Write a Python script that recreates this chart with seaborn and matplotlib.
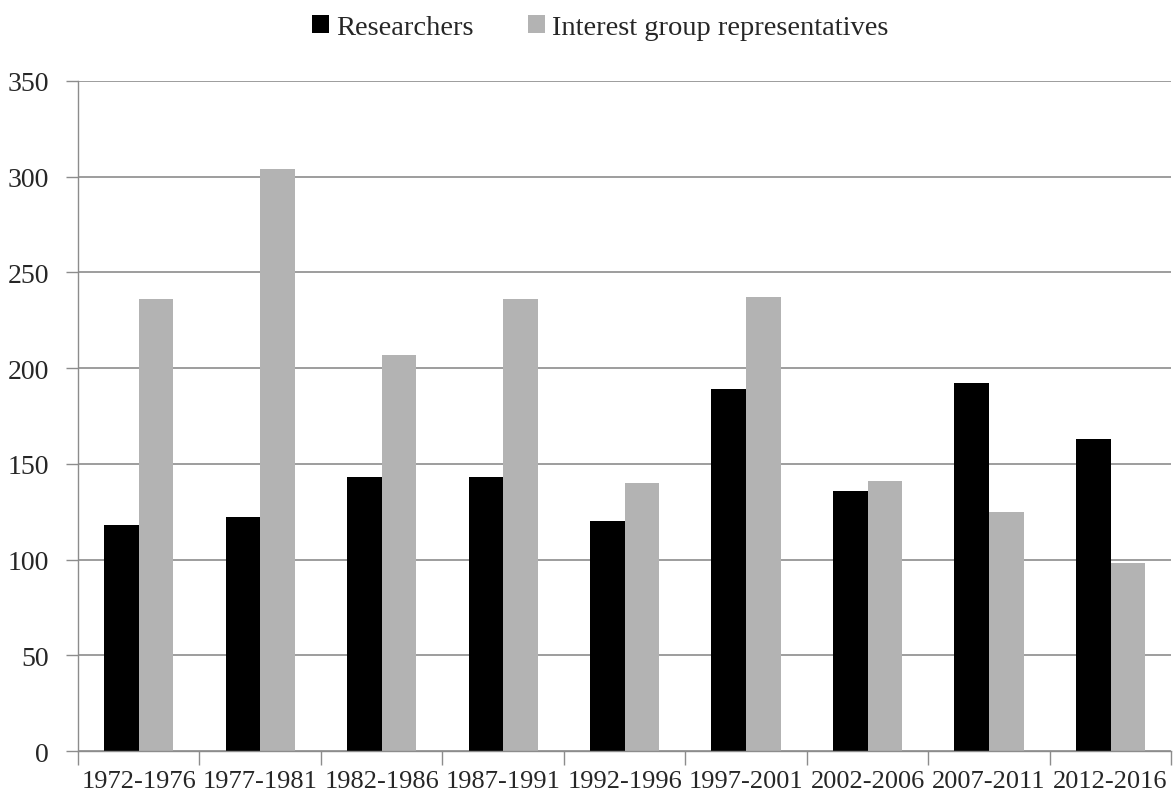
import pandas as pd
import matplotlib
matplotlib.use('Agg')
import matplotlib.pyplot as plt
import seaborn as sns
import numpy as np
from matplotlib.patches import Patch

# Dane
periods = ['1972-1976', '1977-1981', '1982-1986', '1987-1991', '1992-1996',
           '1997-2001', '2002-2006', '2007-2011', '2012-2016']
researchers = [118, 122, 143, 143, 120, 189, 136, 192, 163]
interest = [236, 304, 207, 236, 140, 237, 141, 125, 98]
groups = ['Researchers', 'Interest group representatives']
colors = ['#000000', '#b3b3b3']

df = pd.DataFrame({
    'Period': periods * 2,
    'Value': researchers + interest,
    'Group': [groups[0]] * len(periods) + [groups[1]] * len(periods),
})

sns.set_style('white')
plt.rcParams['font.family'] = ['Liberation Serif', 'DejaVu Serif']

fig = plt.figure(figsize=(11.73, 8.03), dpi=100)
ax = fig.add_axes([0.0665, 0.0635, 0.932, 0.8345])

sns.barplot(data=df, x='Period', y='Value', hue='Group', palette=colors,
            saturation=1, width=0.57, ax=ax, legend=False, linewidth=0)

ax.set_ylim(0, 350)
ax.set_xlim(-0.5, len(periods) - 0.5)
ax.set_yticks(np.arange(0, 351, 50))
ax.yaxis.grid(True, color='#8c8c8c', linewidth=1.2)
ax.set_axisbelow(True)
ax.set_xlabel('')
ax.set_ylabel('')

# etykiety x na srodku, kreski na granicach kategorii
ax.set_xticks(np.arange(len(periods)))
ax.set_xticklabels(periods, fontsize=19)
ax.tick_params(axis='x', which='major', bottom=True, length=0, pad=14)
ax.set_xticks(np.arange(len(periods) + 1) - 0.5, minor=True)
ax.tick_params(axis='x', which='minor', bottom=True, length=10, color='#8c8c8c', width=1)
ax.tick_params(axis='y', left=True, length=9, color='#8c8c8c', width=1, labelsize=20, pad=12)

for s in ['top', 'right']:
    ax.spines[s].set_visible(False)
for s in ['left', 'bottom']:
    ax.spines[s].set_color('#8c8c8c')
    ax.spines[s].set_linewidth(1)

handles = [Patch(facecolor=c, edgecolor='none') for c in colors]
fig.legend(handles, groups, loc='upper center', bbox_to_anchor=(0.512, 1.012),
           ncol=2, frameon=False, fontsize=20.5, handlelength=0.6, handleheight=0.6,
           handletextpad=0.25, columnspacing=1.9)

fig.savefig('out.png', dpi=100)
